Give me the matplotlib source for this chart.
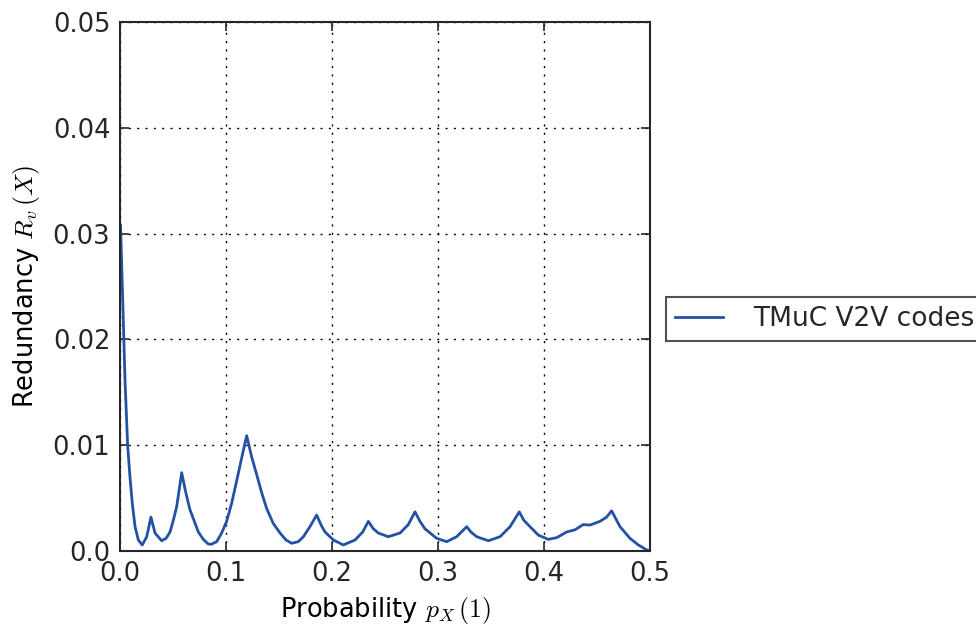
import matplotlib
matplotlib.use("Agg")
import matplotlib.pyplot as plt

# значения кривой
p = [0.0005, 0.0025, 0.0047, 0.0072, 0.0094, 0.0116, 0.0142, 0.0173, 0.021, 0.0252, 0.0292,
     0.033, 0.0393, 0.0435, 0.0472, 0.0503, 0.0535, 0.0582, 0.0619, 0.066, 0.0739,
     0.0786, 0.0830, 0.0860, 0.0912, 0.0959, 0.1006, 0.1053, 0.110, 0.1148, 0.1195,
     0.1242, 0.129, 0.1337, 0.1384, 0.1446, 0.151, 0.1566, 0.162, 0.1682, 0.173,
     0.1792, 0.1855, 0.1900, 0.1934, 0.2013, 0.2107, 0.2217, 0.2290, 0.2343,
     0.2390, 0.2437, 0.2531, 0.2642, 0.2720, 0.2783, 0.2830, 0.2877, 0.2987,
     0.3082, 0.3176, 0.3271, 0.3310, 0.3365, 0.3475, 0.3585, 0.368, 0.3767,
     0.3810, 0.3868, 0.3947, 0.404, 0.412, 0.4214, 0.4292, 0.437, 0.4434,
     0.4528, 0.4590, 0.4638, 0.4680, 0.4717, 0.4811, 0.489, 0.4969, 0.5]
r = [0.0308, 0.0240, 0.0162, 0.0100, 0.0070, 0.0045, 0.0023, 0.00104, 0.00057, 0.00135, 0.0032,
     0.0017, 0.00097, 0.0012, 0.0018, 0.0029, 0.0042, 0.0074, 0.0056, 0.0039, 0.0018,
     0.0011, 0.00068, 0.00063, 0.00088, 0.0017, 0.0028, 0.0045, 0.0066, 0.0088, 0.0109,
     0.0089, 0.0072, 0.0055, 0.0040, 0.0026, 0.0017, 0.00104, 0.00073, 0.00088, 0.00135,
     0.0023, 0.0034, 0.0024, 0.0018, 0.00104, 0.00057, 0.00104, 0.0018, 0.0028,
     0.0021, 0.0017, 0.00135, 0.0017, 0.0025, 0.0037, 0.0028, 0.0021, 0.0012,
     0.00088, 0.00135, 0.0023, 0.0018, 0.00135, 0.00097, 0.00135, 0.0023, 0.0037,
     0.0029, 0.0023, 0.0015, 0.0011, 0.00126, 0.0018, 0.0020, 0.0025, 0.00245,
     0.0028, 0.0032, 0.0038, 0.0030, 0.0023, 0.0012, 0.00057, 0.0001, 0.0]

x_ticks = [0.0, 0.1, 0.2, 0.3, 0.4, 0.5]
x_labels = ['0.0', '0.1', '0.2', '0.3', '0.4', '0.5']
y_ticks = [0.0, 0.01, 0.02, 0.03, 0.04, 0.05]
y_labels = ['0.0', '0.01', '0.02', '0.03', '0.04', '0.05']

plt.rcParams['mathtext.fontset'] = 'cm'
plt.rcParams['font.size'] = 18.5
plt.rcParams['text.color'] = '#262626'

fig = plt.figure(figsize=(9.76, 6.31), dpi=100)
ax = fig.add_axes([120 / 976, 80 / 631, 530 / 976, 529 / 631])

ax.plot(p, r, color='#2352a3', linewidth=2, label='TMuC V2V codes')

ax.set_xlim(0, 0.5)
ax.set_ylim(0, 0.05)
ax.set_xticks(x_ticks)
ax.set_xticklabels(x_labels)
ax.set_yticks(y_ticks)
ax.set_yticklabels(y_labels)
ax.tick_params(direction='in', top=True, right=True, length=6.5, width=1.2,
               labelsize=18.5, pad=7, labelcolor='#262626', color='#262626')
for s in ax.spines.values():
    s.set_linewidth(1.5)
    s.set_color('#262626')

ax.grid(True, color='black', linestyle=(0, (1.5, 4.5)), linewidth=1)
ax.set_xlabel(r'Probability $p_X\,(1)$', fontsize=18.5, labelpad=6)
ax.set_ylabel(r'Redundancy $R_v\,(X)$', fontsize=18.5, labelpad=8)

leg = ax.legend(loc='center left', bbox_to_anchor=(1.03, 0.4386), borderaxespad=0,
                fancybox=False, handlelength=1.8, handletextpad=1.15, fontsize=19,
                borderpad=0.35)
leg.get_frame().set_edgecolor('#262626')
leg.get_frame().set_linewidth(1.5)

fig.savefig('out.png', dpi=100)
